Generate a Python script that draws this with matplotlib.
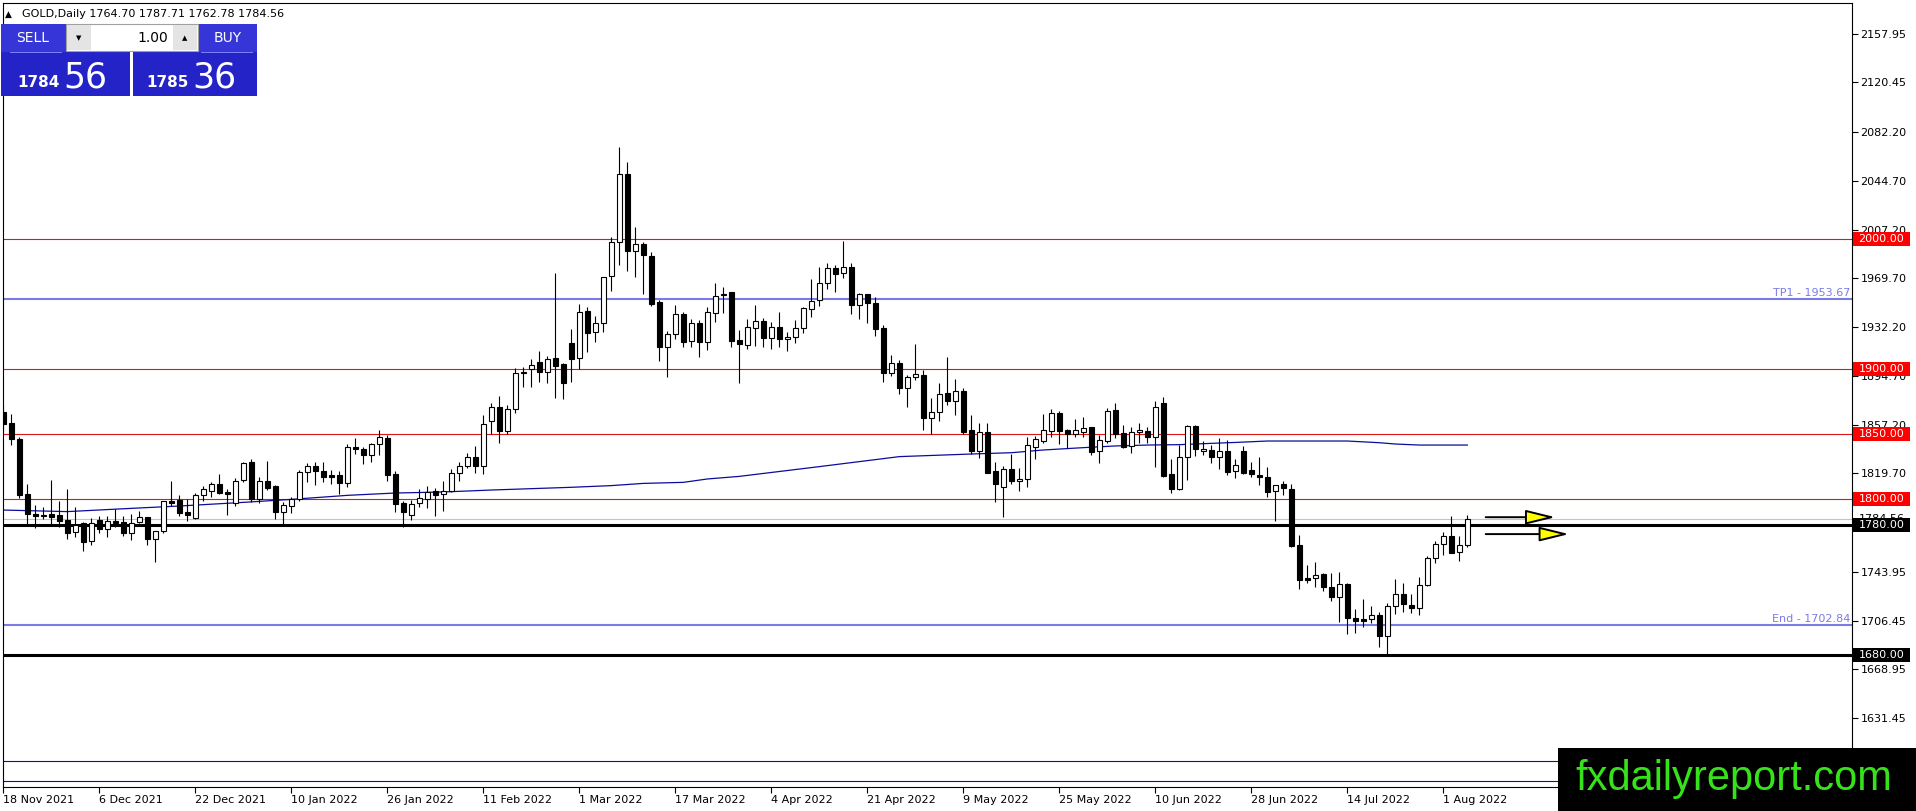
import numpy as np
import matplotlib.pyplot as plt
import matplotlib.transforms as mtransforms
from matplotlib.patches import Rectangle

plt.rcParams['font.family'] = ['DejaVu Sans']

# GOLD daily candles, 18 Nov 2021 .. 4 Aug 2022 (one value per bar)
opens = [1867.0, 1858.2, 1845.9, 1803.6, 1788.2, 1787.6, 1788.5, 1787.4, 1783.9, 1774.4,
         1781.8, 1768.0, 1783.8, 1777.2, 1782.8, 1782.0, 1774.1, 1782.0, 1786.0, 1769.5,
         1775.6, 1798.5, 1799.2, 1790.0, 1785.1, 1802.8, 1806.4, 1811.3, 1805.4, 1796.7,
         1814.6, 1828.2, 1800.0, 1813.6, 1810.0, 1789.7, 1794.6, 1799.7, 1820.8, 1825.4,
         1821.3, 1818.7, 1818.5, 1812.6, 1840.3, 1838.5, 1833.6, 1842.1, 1846.9, 1819.2,
         1796.7, 1787.4, 1796.7, 1800.0, 1805.9, 1803.6, 1806.4, 1819.7, 1825.4, 1832.0,
         1825.6, 1860.3, 1870.5, 1852.6, 1869.0, 1897.6, 1899.7, 1905.1, 1897.9, 1908.2,
         1903.8, 1920.3, 1908.2, 1944.4, 1928.2, 1935.6, 1971.8, 1997.4, 2049.7, 1990.5,
         1995.9, 1986.9, 1951.3, 1917.2, 1926.7, 1942.3, 1921.8, 1935.1, 1920.5, 1942.8,
         1957.0, 1959.0, 1922.3, 1918.5, 1931.8, 1937.2, 1924.1, 1932.0, 1922.8, 1924.4,
         1931.3, 1946.4, 1953.1, 1965.9, 1977.4, 1973.6, 1978.2, 1949.5, 1957.4, 1951.0,
         1931.8, 1897.2, 1904.4, 1885.1, 1894.1, 1895.4, 1862.0, 1867.2, 1881.3, 1875.6,
         1882.8, 1853.1, 1837.2, 1851.3, 1821.8, 1809.5, 1822.8, 1813.8, 1815.6, 1840.3,
         1844.9, 1852.6, 1866.4, 1853.1, 1850.0, 1851.8, 1855.1, 1836.7, 1844.9, 1868.5,
         1851.0, 1840.8, 1851.3, 1852.3, 1847.4, 1873.6, 1819.0, 1807.4, 1832.6, 1856.2,
         1836.7, 1837.7, 1832.1, 1837.2, 1821.8, 1837.0, 1822.3, 1818.5, 1816.7, 1806.2,
         1811.5, 1807.7, 1764.4, 1739.0, 1739.0, 1742.3, 1732.6, 1724.4, 1734.6, 1708.2,
         1707.7, 1707.4, 1710.8, 1694.9, 1717.7, 1726.9, 1718.5, 1715.9, 1733.8, 1754.4,
         1765.1, 1771.5, 1759.2, 1764.70]
highs = [1872.0, 1865.4, 1848.0, 1811.3, 1795.4, 1794.0, 1814.6, 1798.5, 1807.4, 1794.1,
         1782.5, 1785.6, 1787.0, 1787.0, 1792.3, 1787.0, 1788.5, 1790.8, 1786.5, 1775.6,
         1798.5, 1814.1, 1803.0, 1799.7, 1804.4, 1810.3, 1813.3, 1819.2, 1807.4, 1815.9,
         1828.7, 1830.8, 1816.7, 1829.2, 1810.8, 1797.7, 1801.8, 1822.3, 1828.0, 1828.7,
         1828.2, 1822.3, 1821.8, 1842.3, 1846.7, 1839.7, 1843.3, 1853.1, 1849.5, 1821.5,
         1798.7, 1799.2, 1807.4, 1810.0, 1808.2, 1813.8, 1822.8, 1828.2, 1835.6, 1840.8,
         1864.6, 1873.6, 1879.2, 1872.3, 1900.5, 1901.8, 1907.7, 1914.1, 1910.0, 1974.1,
         1904.5, 1930.5, 1950.0, 1947.4, 1940.8, 1970.5, 2001.8, 2071.0, 2059.0, 2009.0,
         1998.0, 1990.0, 1953.1, 1929.5, 1949.2, 1944.1, 1938.2, 1937.7, 1947.4, 1965.9,
         1963.3, 1959.5, 1930.0, 1938.2, 1949.2, 1939.0, 1936.4, 1943.8, 1928.7, 1937.7,
         1948.0, 1969.0, 1978.2, 1981.8, 1980.0, 1998.5, 1981.8, 1958.2, 1957.8, 1955.6,
         1933.8, 1910.8, 1906.9, 1895.4, 1919.2, 1899.2, 1877.4, 1889.0, 1909.5, 1892.0,
         1885.4, 1864.6, 1858.7, 1858.2, 1828.7, 1825.4, 1834.6, 1823.6, 1847.9, 1848.5,
         1865.1, 1869.5, 1867.7, 1853.5, 1861.5, 1862.8, 1855.5, 1849.2, 1869.7, 1873.6,
         1856.9, 1855.6, 1858.7, 1855.6, 1875.6, 1878.7, 1830.5, 1841.5, 1857.0, 1857.0,
         1844.6, 1841.5, 1846.7, 1845.4, 1830.5, 1840.8, 1828.7, 1832.6, 1824.9, 1810.8,
         1814.1, 1811.5, 1772.3, 1749.2, 1751.3, 1743.3, 1742.8, 1744.1, 1735.1, 1715.1,
         1722.8, 1717.7, 1713.3, 1719.7, 1738.2, 1735.1, 1726.9, 1739.7, 1756.2, 1767.9,
         1774.9, 1787.2, 1771.5, 1787.71]
lows = [1852.0, 1841.5, 1800.5, 1780.5, 1777.4, 1784.4, 1780.0, 1778.2, 1769.0, 1771.0,
        1760.3, 1764.6, 1774.1, 1771.0, 1778.2, 1771.5, 1768.5, 1781.3, 1764.6, 1751.8,
        1774.0, 1794.6, 1787.0, 1783.3, 1784.4, 1798.5, 1801.8, 1803.9, 1787.7, 1794.9,
        1813.3, 1797.4, 1796.7, 1806.9, 1784.6, 1780.8, 1789.0, 1798.7, 1813.3, 1811.0,
        1813.3, 1811.5, 1803.9, 1809.0, 1834.6, 1826.9, 1828.7, 1833.8, 1814.1, 1790.0,
        1778.7, 1783.8, 1794.1, 1792.8, 1787.0, 1790.8, 1805.4, 1814.1, 1823.6, 1820.3,
        1819.2, 1850.0, 1843.3, 1850.0, 1866.4, 1885.9, 1886.4, 1890.3, 1889.0, 1877.4,
        1876.7, 1890.3, 1899.7, 1913.3, 1921.0, 1928.7, 1960.2, 1980.0, 1975.6, 1970.5,
        1957.7, 1948.7, 1906.4, 1894.1, 1922.8, 1917.2, 1917.2, 1909.5, 1914.6, 1936.4,
        1942.8, 1916.7, 1889.5, 1915.1, 1917.7, 1917.2, 1915.4, 1917.2, 1914.1, 1919.7,
        1927.4, 1939.7, 1948.5, 1961.3, 1959.5, 1970.2, 1942.3, 1938.2, 1935.6, 1925.4,
        1890.3, 1894.6, 1880.5, 1871.0, 1891.5, 1853.1, 1850.0, 1860.0, 1872.3, 1864.6,
        1850.0, 1834.6, 1831.3, 1820.0, 1798.0, 1785.9, 1811.5, 1806.4, 1809.5, 1831.0,
        1842.8, 1848.0, 1842.0, 1839.5, 1847.4, 1848.0, 1833.8, 1827.4, 1842.8, 1846.7,
        1839.0, 1835.6, 1843.3, 1843.0, 1824.4, 1817.2, 1804.4, 1806.9, 1814.6, 1833.0,
        1833.6, 1827.4, 1822.8, 1818.5, 1815.9, 1819.2, 1817.2, 1810.8, 1801.8, 1783.3,
        1802.8, 1762.8, 1730.8, 1735.1, 1732.0, 1729.5, 1721.8, 1705.6, 1696.2, 1697.2,
        1701.3, 1704.4, 1686.4, 1679.5, 1711.5, 1713.3, 1712.0, 1710.8, 1733.1, 1751.0,
        1756.9, 1758.7, 1752.6, 1762.78]
closes = [1858.0, 1845.9, 1803.1, 1788.2, 1786.9, 1787.2, 1786.4, 1783.3, 1773.6, 1780.0,
          1767.2, 1781.8, 1777.2, 1782.8, 1781.8, 1774.1, 1781.8, 1786.0, 1769.5, 1775.6,
          1798.2, 1796.7, 1789.5, 1788.0, 1802.8, 1807.7, 1811.3, 1804.9, 1803.6, 1813.8,
          1827.4, 1800.0, 1813.6, 1808.7, 1789.7, 1795.1, 1800.3, 1820.5, 1825.1, 1821.3,
          1816.7, 1817.2, 1812.6, 1839.7, 1838.2, 1834.1, 1842.1, 1847.4, 1818.7, 1796.4,
          1790.3, 1796.2, 1800.5, 1805.6, 1803.1, 1806.4, 1819.7, 1825.4, 1832.0, 1825.6,
          1857.4, 1870.5, 1852.6, 1869.0, 1897.3, 1897.2, 1903.1, 1897.4, 1907.9, 1902.3,
          1889.0, 1908.0, 1944.0, 1927.9, 1935.4, 1970.5, 1997.4, 2049.7, 1991.0, 1996.4,
          1987.7, 1950.0, 1917.2, 1926.7, 1942.0, 1921.0, 1935.1, 1921.0, 1943.6, 1956.4,
          1957.4, 1921.8, 1919.0, 1932.0, 1937.2, 1924.1, 1932.0, 1922.8, 1924.6, 1931.3,
          1946.7, 1952.6, 1965.9, 1977.4, 1972.8, 1978.2, 1949.5, 1957.4, 1950.5, 1930.8,
          1897.2, 1904.4, 1885.1, 1893.6, 1895.9, 1862.0, 1867.2, 1880.5, 1875.6, 1882.8,
          1851.8, 1837.2, 1851.3, 1820.3, 1811.3, 1822.8, 1814.1, 1815.4, 1841.3, 1845.9,
          1853.1, 1865.9, 1852.6, 1850.0, 1853.1, 1854.4, 1836.4, 1845.4, 1867.7, 1850.0,
          1840.3, 1851.3, 1853.1, 1847.4, 1870.5, 1817.7, 1807.4, 1832.6, 1856.2, 1838.2,
          1838.5, 1832.0, 1837.2, 1821.0, 1826.2, 1820.3, 1819.0, 1816.7, 1805.6, 1810.8,
          1808.2, 1763.8, 1737.7, 1737.7, 1741.5, 1732.6, 1724.9, 1734.6, 1708.2, 1706.4,
          1706.4, 1710.8, 1694.9, 1717.7, 1726.9, 1719.2, 1715.9, 1733.8, 1754.4, 1765.1,
          1771.9, 1758.7, 1764.6, 1784.56]

date_labels = ['18 Nov 2021', '6 Dec 2021', '22 Dec 2021', '10 Jan 2022', '26 Jan 2022',
               '11 Feb 2022', '1 Mar 2022', '17 Mar 2022', '4 Apr 2022', '21 Apr 2022',
               '9 May 2022', '25 May 2022', '10 Jun 2022', '28 Jun 2022', '14 Jul 2022',
               '1 Aug 2022']
# visible price scale labels (the ones under the price boxes / watermark are hidden)
price_ticks = [2157.95, 2120.45, 2082.20, 2044.70, 2007.20, 1969.70, 1932.20, 1894.70,
               1857.20, 1819.70, 1743.95, 1706.45, 1668.95, 1631.45]

# moving average read at a few bars
ma_bar = [0, 8, 16, 22, 30, 36, 43, 49, 55, 61, 71, 76, 80, 85, 88, 92, 102, 112, 121,
          126, 130, 135, 139, 143, 147, 151, 154, 158, 168, 172, 174, 177, 183]
ma_val = [1791.5, 1790.3, 1792.8, 1794.6, 1797.4, 1799.7, 1802.8, 1804.6, 1805.4, 1806.9,
          1809.0, 1810.3, 1812.0, 1812.8, 1815.4, 1817.4, 1824.9, 1832.6, 1834.6, 1835.6,
          1837.7, 1839.5, 1840.8, 1841.5, 1841.8, 1842.8, 1843.5, 1844.6, 1844.6, 1843.3,
          1842.3, 1841.5, 1841.5]

red_levels = [2000.0, 1900.0, 1850.0, 1800.0]
black_levels = [1780.0, 1680.0]
tp_level = 1953.67
end_level = 1702.84
bid_level = 1784.56
blue_levels = [1598.7, 1583.3]
arrow_levels = [1786.0, 1773.0]
arrow_tips = [194.0, 195.7]

W, H = 1916, 811
L, R, T, B = 2.7, 1852.0, 2.7, 787.0
PX_PER_PRICE = 1.3
PX_PER_BAR = 8.0

fig = plt.figure(figsize=(W / 100, H / 100), dpi=100)
fig.patch.set_facecolor('white')
ax = fig.add_axes([L / W, 1 - B / H, (R - L) / W, (B - T) / H])
ax.set_ylim(2000 - (B - 239) / PX_PER_PRICE, 2000 + (239 - T) / PX_PER_PRICE)
ax.set_xlim((L - 3.3) / PX_PER_BAR, (R - 3.3) / PX_PER_BAR)

# horizontal levels
for lvl in red_levels:
    ax.axhline(lvl, color='#e01515', lw=0.8, zorder=2)
for lvl in black_levels:
    ax.axhline(lvl, color='black', lw=2.2, zorder=2)
for lvl in blue_levels:
    ax.axhline(lvl, color='#10109a', lw=0.8, zorder=2)
ax.axhline(bid_level, color='#c4c4c4', lw=0.8, zorder=2)
ax.axhline(tp_level, color='#7b7be6', lw=1.5, zorder=2)
ax.axhline(end_level, color='#7b7be6', lw=1.5, zorder=2)

# moving average
ax.plot(ma_bar, ma_val, color='#0c0c9c', lw=0.9, zorder=2.5)

# candles
o = np.array(opens)
h = np.array(highs)
l = np.array(lows)
c = np.array(closes)
x = np.arange(len(o))
up = c >= o
ax.vlines(x, l, h, color='black', lw=0.8, zorder=3)
ax.bar(x, np.maximum(np.abs(c - o), 0.4), bottom=np.minimum(o, c), width=0.56,
       color=np.where(up, 'white', 'black'), edgecolor='black', linewidth=0.8, zorder=4)

# arrows
for lvl, tip in zip(arrow_levels, arrow_tips):
    ax.annotate('', xy=(tip, lvl), xytext=(185.3, lvl),
                arrowprops=dict(arrowstyle='-|>,head_length=1.3,head_width=0.32',
                                fc='#ffff00', ec='black', lw=1.4, shrinkA=0, shrinkB=0,
                                mutation_scale=14), zorder=5)

# level captions
trans = mtransforms.blended_transform_factory(ax.transAxes, ax.transData)
ax.text(1 - 2 / (R - L), tp_level + 1 / PX_PER_PRICE, 'TP1 - %.2f' % tp_level, transform=trans,
        ha='right', va='bottom', fontsize=8, color='#7b7be6')
ax.text(1 - 2 / (R - L), end_level + 1 / PX_PER_PRICE, 'End - %.2f' % end_level, transform=trans,
        ha='right', va='bottom', fontsize=8, color='#7b7be6')

# axes styling
for s in ax.spines.values():
    s.set_color('black')
    s.set_linewidth(0.8)
ax.yaxis.tick_right()
ax.set_yticks(price_ticks)
ax.set_yticklabels(['%.2f' % v for v in price_ticks])
ax.tick_params(axis='y', length=4, width=0.8, pad=2, labelsize=8, colors='black')
ax.set_xticks(range(0, 12 * len(date_labels), 12))
ax.set_xticklabels(date_labels)
ax.tick_params(axis='x', length=4, width=0.8, pad=2, labelsize=8, colors='black')
plt.setp(ax.get_xticklabels(), ha='left')


def price_box(val, fc, tc, z):
    hgt = 14 / PX_PER_PRICE
    ax.add_patch(Rectangle((1 + 1.2 / (R - L), val - hgt / 2), 56.5 / (R - L), hgt,
                           transform=trans, fc=fc, ec='none', clip_on=False, zorder=z))
    ax.text(1 + 6.5 / (R - L), val, '%.2f' % val, transform=trans, color=tc, fontsize=8,
            ha='left', va='center', clip_on=False, zorder=z + 0.1)


price_box(bid_level, 'white', 'black', 6)
for lvl in red_levels:
    price_box(lvl, '#ff0000', 'white', 7)
for lvl in black_levels:
    price_box(lvl, 'black', 'white', 7)


# header and trade panel (figure pixels, top-left origin)
def fx(px):
    return px / W


def fy(py):
    return 1 - py / H


def box(x0, y0, x1, y1, fc, ec='none', lw=0):
    fig.add_artist(Rectangle((fx(x0), fy(y1)), fx(x1) - fx(x0), fy(y0) - fy(y1),
                             transform=fig.transFigure, fc=fc, ec=ec, lw=lw, zorder=5))


fig.text(fx(5), fy(14), '\u25b2', fontsize=6.5, va='center', ha='left')
fig.text(fx(22), fy(14), 'GOLD,Daily %.2f %.2f %.2f %.2f' % (opens[-1], highs[-1], lows[-1], closes[-1]),
         fontsize=8, va='center', ha='left')

box(1, 24, 130, 96, '#2323c8')
box(133, 24, 257, 96, '#2323c8')
box(1, 24, 66, 52, '#3535d8')
box(198, 24, 257, 52, '#3535d8')
box(10, 51.5, 62, 52.5, '#7d7dff')
box(201, 51.5, 253, 52.5, '#7d7dff')
box(66, 24, 198, 51, 'white', ec='#a0a0a0', lw=0.8)
box(67, 25, 91, 50, '#e4e4e4')
box(173, 25, 197, 50, '#e4e4e4')
fig.text(fx(33), fy(38), 'SELL', color='white', fontsize=10, ha='center', va='center', zorder=6)
fig.text(fx(228), fy(38), 'BUY', color='white', fontsize=10, ha='center', va='center', zorder=6)
fig.text(fx(79), fy(38), '\u25bc', color='black', fontsize=5, ha='center', va='center', zorder=6)
fig.text(fx(185), fy(38), '\u25b2', color='black', fontsize=5, ha='center', va='center', zorder=6)
fig.text(fx(168), fy(38), '1.00', color='black', fontsize=10, ha='right', va='center', zorder=6)

bid_big = '%.2f' % closes[-1]
ask_big = '%.2f' % (closes[-1] + 0.80)
fig.text(fx(60), fy(87), bid_big[:4], color='white', fontsize=11, fontweight='bold',
         ha='right', va='baseline', zorder=6)
fig.text(fx(63), fy(87), bid_big[5:], color='white', fontsize=25, ha='left', va='baseline', zorder=6)
fig.text(fx(189), fy(87), ask_big[:4], color='white', fontsize=11, fontweight='bold',
         ha='right', va='baseline', zorder=6)
fig.text(fx(192), fy(87), ask_big[5:], color='white', fontsize=25, ha='left', va='baseline', zorder=6)

# watermark
box(1558, 748, 1916, 811, 'black')
fig.text(fx(1575), fy(790), 'fxdailyreport.com', color='#36e21a', fontsize=30,
         family='Liberation Sans', ha='left', va='baseline', zorder=6)

fig.savefig('out.png', dpi=100)
